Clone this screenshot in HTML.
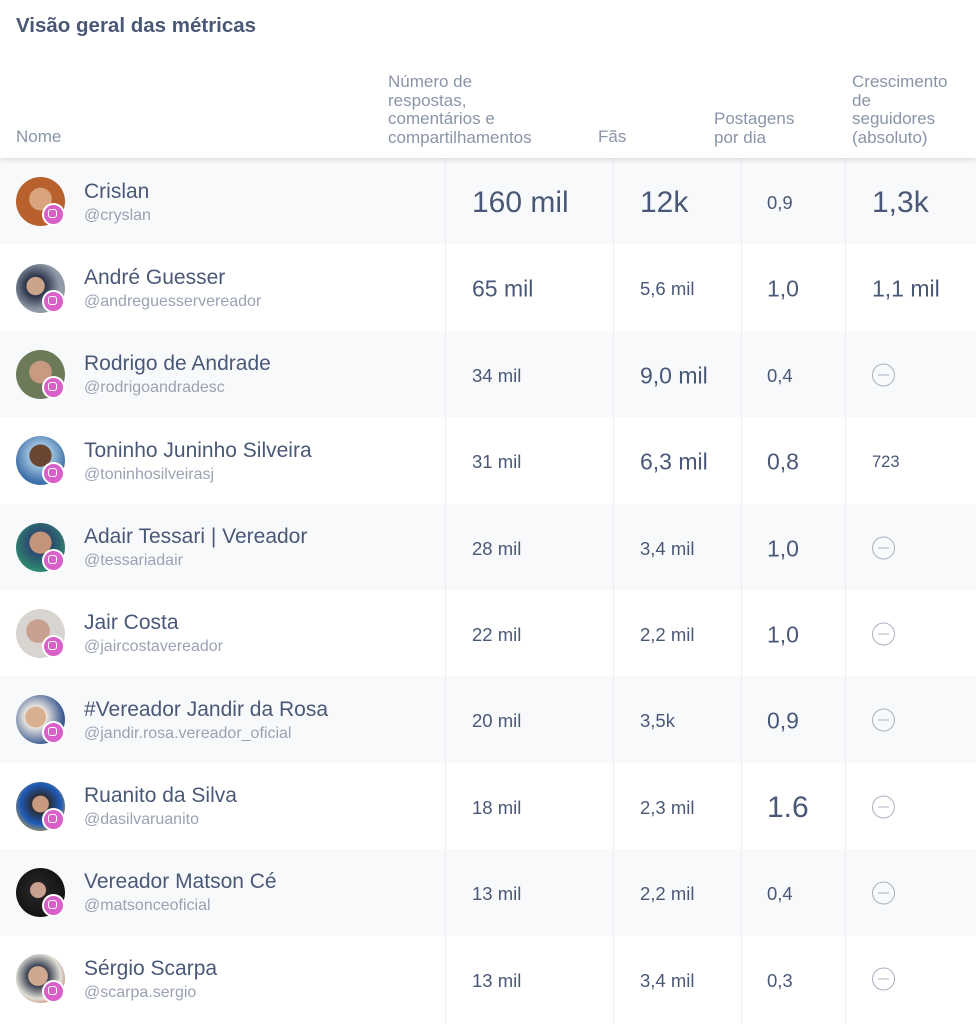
<!DOCTYPE html>
<html><head><meta charset="utf-8">
<style>
*{margin:0;padding:0;box-sizing:border-box}
body{width:976px;height:1024px;background:#fff;font-family:"Liberation Sans",sans-serif;position:relative;overflow:hidden;color:#4a5878}
.t{position:absolute;left:16px;top:14px;font-size:20.5px;font-weight:bold;color:#4a5878}
.h{position:absolute;font-size:17px;line-height:18.5px;color:#8a94a8;white-space:nowrap}
.hdr{position:absolute;left:0;top:0;width:976px;height:158px;background:#fff;box-shadow:0 2px 5px rgba(0,0,0,0.12);z-index:2}
.row{position:absolute;left:0;width:976px;height:86.4px}
.g{background:#f8f9fb}
.vl{position:absolute;top:158px;bottom:0;width:1px;background:#eceef2;z-index:1}
.av{position:absolute;left:16px;width:49px;height:49px;border-radius:50%}
.ig{position:absolute;left:42px;width:23px;height:23px;border-radius:50%;background:#d860c8;border:2px solid #fff}
.ig:after{content:"";position:absolute;left:4px;top:4px;width:7px;height:7px;border:1.6px solid #fff;border-radius:3px}
.nm{position:absolute;left:84px;font-size:21px;color:#4a5878;white-space:nowrap}
.hd{position:absolute;left:84px;font-size:16px;color:#9aa2b3;white-space:nowrap}
.v{position:absolute;white-space:nowrap;transform:translateY(-50%);line-height:1}
.S{font-size:18.5px}.M{font-size:23px}.L{font-size:30px}
.mn{position:absolute;left:872px;width:23px;height:23px;border:1.8px solid #a9b0bf;border-radius:50%;transform:translateY(-50%)}
.mn:after{content:"";position:absolute;left:5px;right:5px;top:9.5px;height:1.8px;background:#a9b0bf}
</style></head><body>
<div class="hdr">
<div class="t">Visão geral das métricas</div>
<div class="h" style="left:16px;top:128px">Nome</div>
<div class="h" style="left:388px;top:73px">Número de<br>respostas,<br>comentários e<br>compartilhamentos</div>
<div class="h" style="left:598px;top:128px">Fãs</div>
<div class="h" style="left:714px;top:110px">Postagens<br>por dia</div>
<div class="h" style="left:852px;top:73px">Crescimento<br>de<br>seguidores<br>(absoluto)</div>
</div>
<div class="vl" style="left:445px"></div><div class="vl" style="left:613px"></div><div class="vl" style="left:741px"></div><div class="vl" style="left:845px"></div>

<div class="row g" style="top:158px"></div>
<div class="row" style="top:244.4px"></div>
<div class="row g" style="top:330.8px"></div>
<div class="row" style="top:417.2px"></div>
<div class="row g" style="top:503.6px"></div>
<div class="row" style="top:590px"></div>
<div class="row g" style="top:676.4px"></div>
<div class="row" style="top:762.8px"></div>
<div class="row g" style="top:849.2px"></div>
<div class="row" style="top:935.6px"></div>

<div class="av" style="top:177px;background:radial-gradient(circle at 50% 45%,#d9a47e 0 30%,#b8612c 32%)"></div><div class="ig" style="top:203px"></div>
<div class="nm" style="top:180px">Crislan</div><div class="hd" style="top:207px">@cryslan</div>
<div class="v L" style="left:472px;top:203px">160 mil</div><div class="v L" style="left:640px;top:203px">12k</div><div class="v S" style="left:767px;top:203px">0,9</div><div class="v L" style="left:872px;top:203px">1,3k</div>

<div class="av" style="top:264px;background:radial-gradient(circle at 40% 45%,#c9a48a 0 22%,#2a3248 24%,#8f9aa8 60%)"></div><div class="ig" style="top:290px"></div>
<div class="nm" style="top:266px">André Guesser</div><div class="hd" style="top:293px">@andreguesservereador</div>
<div class="v M" style="left:472px;top:289px">65 mil</div><div class="v S" style="left:640px;top:289px">5,6 mil</div><div class="v M" style="left:767px;top:289px">1,0</div><div class="v M" style="left:872px;top:289px">1,1 mil</div>

<div class="av" style="top:350px;background:radial-gradient(circle at 50% 45%,#c89a80 0 30%,#6d7a5a 32%)"></div><div class="ig" style="top:376px"></div>
<div class="nm" style="top:352px">Rodrigo de Andrade</div><div class="hd" style="top:379px">@rodrigoandradesc</div>
<div class="v S" style="left:472px;top:376px">34 mil</div><div class="v M" style="left:640px;top:376px">9,0 mil</div><div class="v S" style="left:767px;top:376px">0,4</div><div class="mn" style="top:375px"></div>

<div class="av" style="top:436px;background:radial-gradient(circle at 50% 40%,#6a4632 0 28%,#9cc0dc 30%,#3d6ea8 70%)"></div><div class="ig" style="top:462px"></div>
<div class="nm" style="top:439px">Toninho Juninho Silveira</div><div class="hd" style="top:466px">@toninhosilveirasj</div>
<div class="v S" style="left:472px;top:462px">31 mil</div><div class="v M" style="left:640px;top:462px">6,3 mil</div><div class="v M" style="left:767px;top:462px">0,8</div><div class="v S" style="left:872px;top:462px;font-size:16.5px">723</div>

<div class="av" style="top:523px;background:radial-gradient(circle at 50% 40%,#c49478 0 28%,#2c4a70 30%,#2f8a70 75%)"></div><div class="ig" style="top:549px"></div>
<div class="nm" style="top:525px">Adair Tessari | Vereador</div><div class="hd" style="top:552px">@tessariadair</div>
<div class="v S" style="left:472px;top:549px">28 mil</div><div class="v S" style="left:640px;top:549px">3,4 mil</div><div class="v M" style="left:767px;top:549px">1,0</div><div class="mn" style="top:548px"></div>

<div class="av" style="top:609px;background:radial-gradient(circle at 45% 45%,#c8a090 0 30%,#d8d4d0 32%)"></div><div class="ig" style="top:635px"></div>
<div class="nm" style="top:611px">Jair Costa</div><div class="hd" style="top:638px">@jaircostavereador</div>
<div class="v S" style="left:472px;top:635px">22 mil</div><div class="v S" style="left:640px;top:635px">2,2 mil</div><div class="v M" style="left:767px;top:635px">1,0</div><div class="mn" style="top:634px"></div>

<div class="av" style="top:695px;background:radial-gradient(circle at 40% 45%,#d8b090 0 25%,#e8e4e0 27%,#3a5a90 70%)"></div><div class="ig" style="top:721px"></div>
<div class="nm" style="top:698px">#Vereador Jandir da Rosa</div><div class="hd" style="top:725px">@jandir.rosa.vereador_oficial</div>
<div class="v S" style="left:472px;top:721px">20 mil</div><div class="v S" style="left:640px;top:721px">3,5k</div><div class="v M" style="left:767px;top:721px">0,9</div><div class="mn" style="top:720px"></div>

<div class="av" style="top:782px;background:radial-gradient(circle at 50% 45%,#c89a80 0 22%,#2a2e38 24%,#1e5ab8 55%,#e0b040 90%)"></div><div class="ig" style="top:808px"></div>
<div class="nm" style="top:784px">Ruanito da Silva</div><div class="hd" style="top:811px">@dasilvaruanito</div>
<div class="v S" style="left:472px;top:808px">18 mil</div><div class="v S" style="left:640px;top:808px">2,3 mil</div><div class="v L" style="left:767px;top:808px">1.6</div><div class="mn" style="top:807px"></div>

<div class="av" style="top:868px;background:radial-gradient(circle at 45% 45%,#c8a090 0 20%,#222 22%,#111 80%)"></div><div class="ig" style="top:894px"></div>
<div class="nm" style="top:870px">Vereador Matson Cé</div><div class="hd" style="top:897px">@matsonceoficial</div>
<div class="v S" style="left:472px;top:894px">13 mil</div><div class="v S" style="left:640px;top:894px">2,2 mil</div><div class="v S" style="left:767px;top:894px">0,4</div><div class="mn" style="top:893px"></div>

<div class="av" style="top:954px;background:radial-gradient(circle at 45% 45%,#d0a890 0 25%,#3a4050 27%,#e0e0d8 60%,#c04030 90%)"></div><div class="ig" style="top:980px"></div>
<div class="nm" style="top:957px">Sérgio Scarpa</div><div class="hd" style="top:984px">@scarpa.sergio</div>
<div class="v S" style="left:472px;top:981px">13 mil</div><div class="v S" style="left:640px;top:981px">3,4 mil</div><div class="v S" style="left:767px;top:981px">0,3</div><div class="mn" style="top:979px"></div>
</body></html>
